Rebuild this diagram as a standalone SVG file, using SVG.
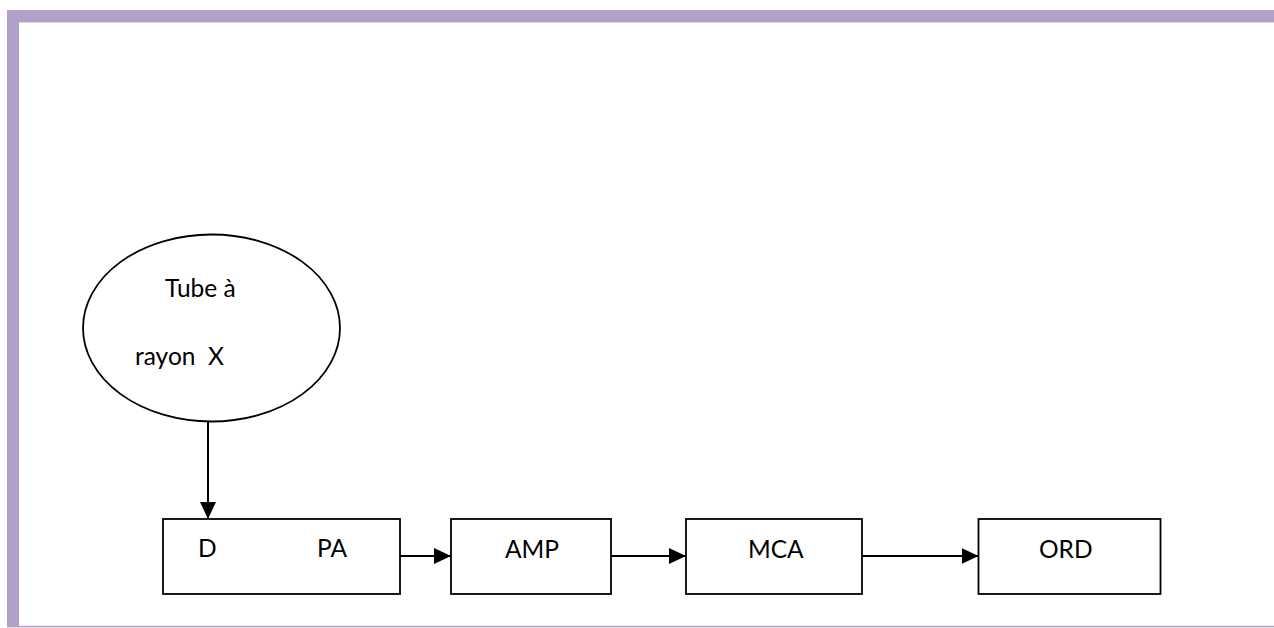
<svg xmlns="http://www.w3.org/2000/svg" width="1274" height="628" viewBox="0 0 1274 628">
<style>
.frame{fill:#B1A0C7;}
.node{fill:#fff;stroke:#000;stroke-width:1.8;}
.lbl{font-family:Lato,"Open Sans",sans-serif;font-size:24.5px;fill:#000;white-space:pre;}
.conn{stroke:#000;stroke-width:2;fill:none;marker-end:url(#ah);}
</style>
<defs>
<marker id="ah" viewBox="0 0 17 16" refX="17" refY="8" markerWidth="17" markerHeight="16" markerUnits="userSpaceOnUse" orient="auto">
<path d="M0,0 L17,8 L0,16 Z" fill="#000"/>
</marker>
</defs>
<rect width="1274" height="628" fill="#fff"/>
<g id="frame">
<rect class="frame" x="7" y="10" width="1267" height="12.5"/>
<rect class="frame" x="7" y="10" width="12" height="617"/>
<rect class="frame" x="7" y="625.8" width="1267" height="1.6"/>
</g>
<g id="tube">
<ellipse class="node" cx="211.5" cy="328" rx="128.5" ry="93.5"/>
<text class="lbl" x="165" y="297">Tube à</text>
<text class="lbl" x="135" y="365" xml:space="preserve">rayon  X</text>
</g>
<g id="dpa">
<rect class="node" x="163" y="519" width="237" height="75"/>
<text class="lbl" x="198" y="557">D</text>
<text class="lbl" x="317" y="557">PA</text>
</g>
<g id="amp">
<rect class="node" x="451" y="519" width="160" height="75"/>
<text class="lbl" x="505" y="558">AMP</text>
</g>
<g id="mca">
<rect class="node" x="686" y="519" width="176" height="75"/>
<text class="lbl" x="748" y="558">MCA</text>
</g>
<g id="ord">
<rect class="node" x="978.5" y="519" width="182" height="75"/>
<text class="lbl" x="1039" y="558">ORD</text>
</g>
<g id="connectors">
<line class="conn" x1="208" y1="421.5" x2="208" y2="519"/>
<line class="conn" x1="400" y1="556" x2="451" y2="556"/>
<line class="conn" x1="611" y1="556" x2="686" y2="556"/>
<line class="conn" x1="862" y1="556" x2="978.5" y2="556"/>
</g>
</svg>
